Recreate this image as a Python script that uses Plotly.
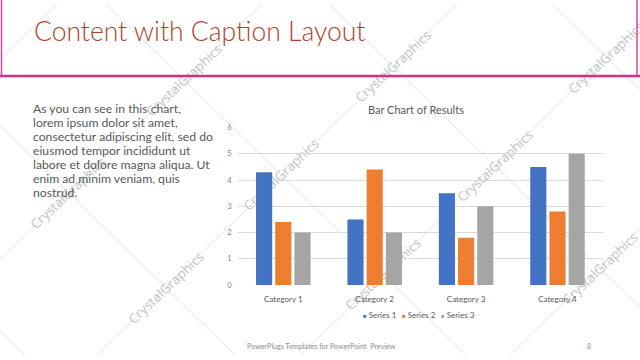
import base64
import plotly.graph_objects as go

# ---------------- data ----------------
categories = ["Category 1", "Category 2", "Category 3", "Category 4"]
series_names = ["Series 1", "Series 2", "Series 3"]
series1 = [4.3, 2.5, 3.5, 4.5]
series2 = [2.4, 4.4, 1.8, 2.8]
series3 = [2, 2, 3, 5]
series_colors = ["#4472C4", "#ED7D31", "#A5A5A5"]
y_ticks = [0, 1, 2, 3, 4, 5, 6]

slide_title = "Content with Caption Layout"
chart_title = "Bar Chart of Results"
body_lines = [
    "As you can see in this chart,",
    "lorem ipsum dolor sit amet,",
    "consectetur adipiscing elit, sed do",
    "eiusmod tempor incididunt ut",
    "labore et dolore magna aliqua. Ut",
    "enim ad minim veniam, quis",
    "nostrud.",
]
footer_text = "PowerPlugs Templates for PowerPoint  Preview"
page_number = "8"
watermark_text = "CrystalGraphics"

W, H = 640, 360


def px(x):
    return x / W


def py(y):
    return 1 - y / H


# ---------------- watermark (decoration, drawn below the chart) ----------------
up_lines = [57, 262, 457, 661, 870]        # x + y = c
down_lines = [-552, -329, -106, 125, 335]  # y - x = d
wm_pos = [(68, 194), (184, 78), (166, 291), (281, 175), (393, 64),
          (383, 277), (495, 166), (606, 55), (600, 271)]

svg = [f'<svg xmlns="http://www.w3.org/2000/svg" width="{W}" height="{H}" viewBox="0 0 {W} {H}">']
for c in up_lines:
    svg.append(f'<line x1="-20" y1="{c + 20}" x2="{W + 20}" y2="{c - W - 20}" stroke="#e3e3e3" stroke-width="1"/>')
for d in down_lines:
    svg.append(f'<line x1="-20" y1="{d - 20}" x2="{W + 20}" y2="{W + 20 + d}" stroke="#e3e3e3" stroke-width="1"/>')
for (cx, cy) in wm_pos:
    svg.append(
        f'<text x="0" y="0" transform="translate({cx},{cy}) rotate(-44)" text-anchor="middle" '
        f'dominant-baseline="central" font-family="Open Sans" font-size="13.5" fill="#c4c4c4">{watermark_text}</text>'
    )
svg.append("</svg>")
svg_uri = "data:image/svg+xml;base64," + base64.b64encode("".join(svg).encode()).decode()

# ---------------- figure ----------------
fig = go.Figure()
for name, vals, col in zip(series_names, [series1, series2, series3], series_colors):
    fig.add_trace(go.Bar(x=categories, y=vals, name=name, marker=dict(color=col, line=dict(width=0)),
                         showlegend=False))

fig.update_layout(
    width=W, height=H, autosize=False,
    margin=dict(l=0, r=0, t=0, b=0),
    paper_bgcolor="white", plot_bgcolor="rgba(0,0,0,0)",
    barmode="group", bargap=0.37, bargroupgap=0.16,
    font=dict(family="Lato", color="#595959"),
    xaxis=dict(domain=[px(237.6), px(603.2)], showgrid=False, showline=False, zeroline=False,
               ticks="", tickfont=dict(size=8, color="#595959"), ticklabelstandoff=8),
    yaxis=dict(domain=[py(288.3), py(126.7)], range=[0, 6], tickvals=y_ticks, showgrid=True,
               gridcolor="#d9d9d9", gridwidth=1, zeroline=False, showline=False, ticks="",
               tickfont=dict(size=7.5, color="#7f7f7f"), ticklabelstandoff=5),
    images=[dict(source=svg_uri, xref="paper", yref="paper", x=0, y=1, sizex=1, sizey=1,
                 xanchor="left", yanchor="top", sizing="stretch", layer="below")],
)

# title box border
fig.add_shape(type="rect", xref="paper", yref="paper", x0=px(1.5), x1=px(637), y0=py(73.5), y1=py(-5),
              line=dict(color="#E0459A", width=1.5), fillcolor="rgba(0,0,0,0)")
fig.add_shape(type="line", xref="paper", yref="paper", x0=px(0), x1=px(640), y0=py(73.8), y1=py(73.8),
              line=dict(color="#D62F86", width=2.5))

ann = []
ann.append(dict(text=slide_title, x=px(32), y=py(27.5), xanchor="left", yanchor="middle",
                font=dict(family="Lato", size=26.5, color="#B5402A", weight=300)))
for i, line in enumerate(body_lines):
    ann.append(dict(text=line, x=px(31), y=py(107.5 + i * 14.3), xanchor="left", yanchor="middle",
                    font=dict(family="Lato", size=12.2, color="#595959")))
ann.append(dict(text=chart_title, x=px(416), y=py(108.5), xanchor="center", yanchor="middle",
                font=dict(family="Lato", size=11, color="#595959")))
legend_x = [360.5, 400, 439]
for name, col, lx in zip(series_names, series_colors, legend_x):
    ann.append(dict(text=f"<span style='color:{col};font-size:6px'>■</span> {name}", x=px(lx), y=py(318.5),
                    xanchor="left", yanchor="middle", font=dict(family="Lato", size=8, color="#595959")))
ann.append(dict(text=footer_text, x=px(245), y=py(351.5), xanchor="left", yanchor="middle",
                font=dict(family="Lato", size=7.2, color="#8c8c8c")))
ann.append(dict(text=page_number, x=px(589), y=py(351.5), xanchor="center", yanchor="middle",
                font=dict(family="Lato", size=7.2, color="#8c8c8c")))
for a in ann:
    a.update(xref="paper", yref="paper", showarrow=False)
fig.update_layout(annotations=ann)

fig.write_html("out.html", config={"displayModeBar": False},
               post_script="document.body.style.margin='0';document.body.style.overflow='hidden';")
